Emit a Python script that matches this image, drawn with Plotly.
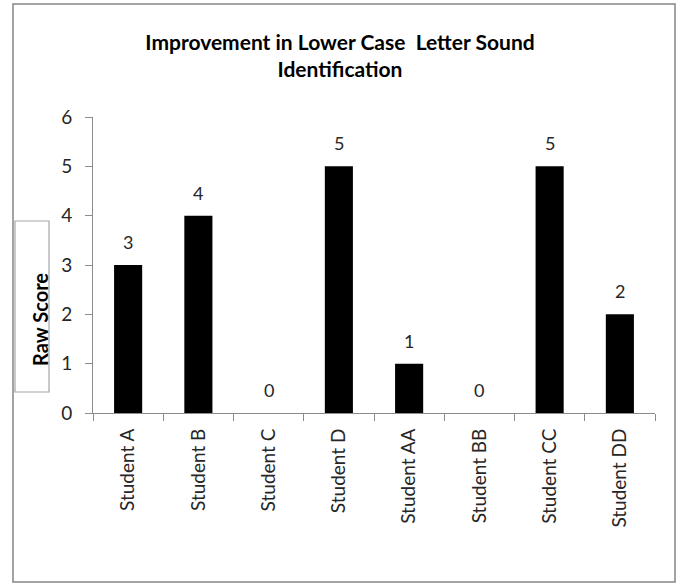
import plotly.graph_objects as go

# Improvement scores per student
students = ["Student A", "Student B", "Student C", "Student D",
            "Student AA", "Student BB", "Student CC", "Student DD"]
scores = [3, 4, 0, 5, 1, 0, 5, 2]
y_ticks = [0, 1, 2, 3, 4, 5, 6]

W, H = 680, 584
L, R, T, B = 93, 25, 117, 171
plot_w = W - L - R
plot_h = H - T - B

FONT = "Lato"
AXIS_GREY = "#8c8c8c"


def px_x(p):
    return (p - L) / plot_w


def px_y(p):
    return (H - B - p) / plot_h


fig = go.Figure(
    go.Bar(
        x=students,
        y=scores,
        marker=dict(color="black", line=dict(width=0)),
        hoverinfo="skip",
    )
)

# value labels above each bar
for s, v in zip(students, scores):
    fig.add_annotation(
        x=s, y=v, text=str(v), showarrow=False,
        yanchor="bottom", yshift=10,
        font=dict(family=FONT, size=18, color="#262626"),
    )

# outer chart frame
fig.add_shape(
    type="rect", xref="paper", yref="paper",
    x0=px_x(13), x1=px_x(675), y0=px_y(582), y1=px_y(4),
    line=dict(color="#858585", width=1.5), layer="below",
)

# boxed y-axis title
fig.add_shape(
    type="rect", xref="paper", yref="paper",
    x0=px_x(15), x1=px_x(49), y0=px_y(392), y1=px_y(221),
    line=dict(color="#a6a6a6", width=1.2), fillcolor="white",
)
fig.add_annotation(
    xref="paper", yref="paper", x=px_x(40), y=px_y(320),
    xanchor="center", yanchor="middle",
    text="<b>Raw Score</b>", showarrow=False, textangle=-90,
    font=dict(family=FONT, size=20, color="black"),
)

fig.update_layout(
    width=W, height=H,
    margin=dict(l=L, r=R, t=T, b=B),
    paper_bgcolor="white", plot_bgcolor="white",
    bargap=0.6,
    showlegend=False,
    title=dict(
        text="<b>Improvement in Lower Case  Letter Sound<br>Identification</b>",
        x=0.5, xanchor="center", xref="container",
        y=1 - 50 / H, yanchor="middle", yref="container",
        font=dict(family=FONT, size=21, color="black"),
    ),
)

fig.update_yaxes(
    range=[0, 6], tickvals=y_ticks, showgrid=False, zeroline=False,
    showline=True, linecolor=AXIS_GREY, linewidth=1,
    ticks="outside", ticklen=7, tickcolor=AXIS_GREY,
    ticklabelstandoff=9,
    tickfont=dict(family=FONT, size=19, color="#262626"),
)
fig.update_xaxes(
    showgrid=False, showline=True, linecolor=AXIS_GREY, linewidth=1,
    ticks="outside", ticklen=7, tickcolor=AXIS_GREY, tickson="boundaries",
    tickangle=-90, ticklabelstandoff=7,
    tickfont=dict(family=FONT, size=19, color="#262626"),
)

fig.write_html("out.html")
